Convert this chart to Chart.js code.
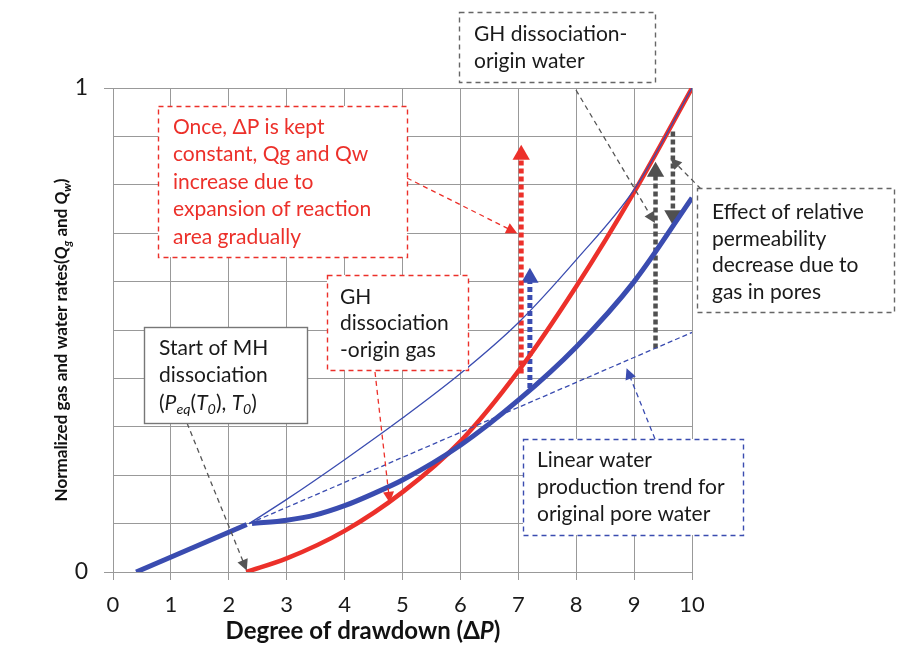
<!DOCTYPE html>
<html><head><meta charset="utf-8">
<script src="https://cdn.jsdelivr.net/npm/chart.js@4.4.1/dist/chart.umd.min.js"></script>
<style>html,body{margin:0;padding:0;background:#fff;}#wrap{width:922px;height:657px;}</style>
</head><body><div id="wrap"><canvas id="c" width="922" height="657"></canvas></div>
<script>
// ---------- data ----------
const xTickValues = [0,1,2,3,4,5,6,7,8,9,10];
const yTickLabels = ['0','1'];           // only labelled at min / max
// original pore water (thick blue, linear part before dissociation)
const waterLinearX = [0.4, 2.31];
const waterLinearY = [0.0, 0.098];
// water production after dissociation starts (thick blue)
const waterCurveX = [2.40, 3, 3.5, 4, 4.5, 5, 6, 7, 8, 9, 10];
const waterCurveY = [0.100, 0.107, 0.118, 0.137, 0.162, 0.190, 0.262, 0.355, 0.465, 0.600, 0.773];
// gas production (thick red)
const gasCurveX = [2.3, 3, 4, 5, 6, 7, 8, 9, 10];
const gasCurveY = [0.0, 0.028, 0.085, 0.165, 0.270, 0.415, 0.590, 0.785, 1.0];
// water without permeability decrease (thin blue)
const totalWaterX = [2.35, 3, 4, 5, 6, 7, 8, 9, 10];
const totalWaterY = [0.100, 0.150, 0.232, 0.318, 0.410, 0.515, 0.645, 0.790, 1.0];
// linear water trend (thin dashed blue)
const linearTrendX = [2.35, 10];
const linearTrendY = [0.100, 0.495];
// dotted vertical arrows: [x, yStart, yHeadCentre]
const gasRiseArrow   = [7.05, 0.41, 0.862];
const waterRiseArrow = [7.20, 0.38, 0.608];
const originWaterArrow = [9.37, 0.462, 0.827];
const permArrow      = [9.67, 0.91, 0.737];

// ---------- styles ----------
const BLUE = '#3a4cb0', RED = '#ec302a', GRAY = '#555555', GRID = '#999999';
const FAMILY = 'Lato, "Open Sans", sans-serif';

function pts(xs, ys){ return xs.map((x,i)=>({x, y: ys[i]})); }
function arrowPts(a){ return [{x:a[0], y:a[1]}, {x:a[0], y:a[2]}]; }

const lineBase = {type:'line', fill:false, pointRadius:0, showLine:true};
function dottedArrow(a, color, down, w){
  return Object.assign({}, lineBase, {
    data: arrowPts(a), borderColor: color, borderWidth: w||5, borderDash:[5,3], borderCapStyle:'butt',
    pointRadius:[0,10], pointStyle:'triangle', pointRotation: down?180:0,
    pointBackgroundColor: color, pointBorderColor: color, pointBorderWidth:0
  });
}

const datasets = [
  Object.assign({}, lineBase, {data: pts(linearTrendX, linearTrendY), borderColor: BLUE, borderWidth: 1.3, borderDash:[5,3]}),
  Object.assign({}, lineBase, {data: pts(totalWaterX, totalWaterY), borderColor: BLUE, borderWidth: 1.3, cubicInterpolationMode:'monotone'}),
  Object.assign({}, lineBase, {data: pts(waterLinearX, waterLinearY), borderColor: BLUE, borderWidth: 5}),
  Object.assign({}, lineBase, {data: pts(waterCurveX, waterCurveY), borderColor: BLUE, borderWidth: 5, cubicInterpolationMode:'monotone'}),
  Object.assign({}, lineBase, {data: pts(gasCurveX, gasCurveY), borderColor: RED, borderWidth: 4.5, cubicInterpolationMode:'monotone'}),
  dottedArrow(gasRiseArrow, RED, false),
  dottedArrow(waterRiseArrow, BLUE, false),
  dottedArrow(originWaterArrow, '#505050', false, 4.5),
  dottedArrow(permArrow, '#505050', true, 4.5)
];

// ---------- rich text helpers ----------
function R(t, o){ return Object.assign({t}, o||{}); }
function runFont(r, size, weight){ const s = r.sub ? size*0.68 : size; return (r.i?'italic ':'') + weight + ' ' + s + 'px ' + FAMILY; }
function measureRuns(ctx, runs, size, weight){ let w=0; for(const r of runs){ ctx.font = runFont(r,size,weight); w += ctx.measureText(r.t).width; } return w; }
function drawRuns(ctx, runs, x, y, size, weight, color, align){
  if (typeof runs === 'string') runs = [R(runs)];
  let w = measureRuns(ctx, runs, size, weight);
  let cx = align==='center' ? x - w/2 : x;
  ctx.fillStyle = color; ctx.textBaseline = 'middle'; ctx.textAlign = 'left';
  for (const r of runs){ ctx.font = runFont(r,size,weight); ctx.fillText(r.t, cx, y + (r.sub ? size*0.3 : 0)); cx += ctx.measureText(r.t).width; }
}
function arrowHead(ctx, x0, y0, x1, y1, color, len, half){
  const a = Math.atan2(y1-y0, x1-x0);
  ctx.fillStyle = color; ctx.beginPath();
  ctx.moveTo(x1, y1);
  ctx.lineTo(x1 - len*Math.cos(a) + half*Math.sin(a), y1 - len*Math.sin(a) - half*Math.cos(a));
  ctx.lineTo(x1 - len*Math.cos(a) - half*Math.sin(a), y1 - len*Math.sin(a) + half*Math.cos(a));
  ctx.closePath(); ctx.fill();
}

// ---------- annotations (box layout in px, arrow tips in data units) ----------
const TXT = '#1a1a1a';
const notes = [
  {box:[158,106,407,257], border:RED, dash:[5,4], color:RED, tx:173, ty:127, lh:27.5, size:21,
   lines:['Once, \u0394P is kept','constant, Qg and Qw','increase due to','expansion of reaction','area gradually']},
  {box:[327,275,468,370], border:RED, dash:[5,4], color:TXT, tx:340, ty:297, lh:26.5, size:21,
   lines:['GH','dissociation','-origin gas']},
  {box:[144,327,307,423], border:'#777', dash:[], color:TXT, tx:159, ty:348, lh:27.5, size:21,
   lines:['Start of MH','dissociation',
     [R('('),R('P',{i:1}),R('eq',{i:1,sub:1}),R('('),R('T',{i:1}),R('0',{i:1,sub:1}),R('), '),R('T',{i:1}),R('0',{i:1,sub:1}),R(')')]]},
  {box:[459,12,655,82], border:'#666', dash:[5,4], color:TXT, tx:474, ty:34, lh:27.5, size:21,
   lines:['GH dissociation-','origin water']},
  {box:[697,188,894,312], border:'#666', dash:[5,4], color:TXT, tx:712, ty:212, lh:26.8, size:21,
   lines:['Effect of relative','permeability','decrease due to','gas in pores']},
  {box:[523,439,743,535], border:BLUE, dash:[5,4], color:TXT, tx:537, ty:460, lh:27, size:21,
   lines:['Linear water','production trend for','original pore water']}
];
const connectors = [
  {from:[407,178], to:[6.98,0.700], color:RED},
  {from:[375,372], to:[4.78,0.143], color:RED},
  {from:[187,423], to:[2.31,0.003], color:GRAY},
  {from:[576,90],  to:[9.36,0.721], color:GRAY},
  {from:[701,189], to:[9.63,0.855], color:GRAY},
  {from:[655,439], to:[8.87,0.421], color:BLUE}
];

const annotPlugin = {
  id:'annot',
  afterDatasetsDraw(chart){
    const ctx = chart.ctx, xs = chart.scales.x, ys = chart.scales.y;
    ctx.save();
    for (const c of connectors){
      const x1 = xs.getPixelForValue(c.to[0]), y1 = ys.getPixelForValue(c.to[1]);
      const [x0,y0] = c.from;
      const a = Math.atan2(y1-y0, x1-x0);
      ctx.strokeStyle = c.color; ctx.lineWidth = 1.3; ctx.setLineDash([5,4]);
      ctx.beginPath(); ctx.moveTo(x0,y0); ctx.lineTo(x1-9*Math.cos(a), y1-9*Math.sin(a)); ctx.stroke();
      ctx.setLineDash([]);
      arrowHead(ctx, x0, y0, x1, y1, c.color, 11, 5.5);
    }
    for (const n of notes){
      const [l,t,r,b] = n.box;
      ctx.fillStyle = '#fff'; ctx.fillRect(l,t,r-l,b-t);
      ctx.strokeStyle = n.border; ctx.lineWidth = 1.4; ctx.setLineDash(n.dash);
      ctx.strokeRect(l+0.5,t+0.5,r-l,b-t);
      ctx.setLineDash([]);
      n.lines.forEach((ln,i)=> drawRuns(ctx, ln, n.tx, n.ty + i*n.lh, n.size, 'normal', n.color, 'left'));
    }
    drawRuns(ctx, [R('Degree of drawdown ('),R('\u0394'),R('P',{i:1}),R(')')], 363, 631, 24, 'bold', '#111', 'center');
    ctx.save();
    ctx.translate(62, 340); ctx.rotate(-Math.PI/2);
    drawRuns(ctx, [R('Normalized gas and water rates('),R('Q',{i:1}),R('g',{i:1,sub:1}),R(' and '),R('Q',{i:1}),R('w',{i:1,sub:1}),R(')')], 0, 0, 17, 'bold', '#111', 'center');
    ctx.restore();
    ctx.restore();
  }
};

new Chart(document.getElementById('c'), {
  type:'scatter',
  data:{datasets},
  options:{
    responsive:false, animation:false, devicePixelRatio:1,
    layout:{padding:{left:0, top:88, right:230, bottom:0}},
    plugins:{legend:{display:false}, tooltip:{enabled:false}},
    scales:{
      x:{type:'linear', min:0, max:10,
        afterFit(s){ s.height = 85; },
        afterBuildTicks(s){ s.ticks = xTickValues.map(v=>({value:v})); },
        ticks:{font:{family:FAMILY, size:22}, color:'#1a1a1a', padding:12},
        grid:{color:GRID, lineWidth:1, tickLength:8, tickColor:GRID},
        border:{color:GRID}
      },
      y:{type:'linear', min:0, max:1,
        afterFit(s){ s.width = 113; },
        ticks:{stepSize:0.1, font:{family:FAMILY, size:23}, color:'#1a1a1a', padding:16,
          callback(v){ if (Math.abs(v) < 1e-6) return yTickLabels[0]; if (Math.abs(v-1) < 1e-6) return yTickLabels[1]; return ''; }},
        grid:{color:GRID, lineWidth:1, tickLength:9,
          tickColor(ctx){ const v = ctx.tick ? ctx.tick.value : 0.5; return (Math.abs(v)<1e-6 || Math.abs(v-1)<1e-6) ? GRID : 'rgba(0,0,0,0)'; }},
        border:{color:GRID}
      }
    }
  },
  plugins:[annotPlugin]
});
</script></body></html>
